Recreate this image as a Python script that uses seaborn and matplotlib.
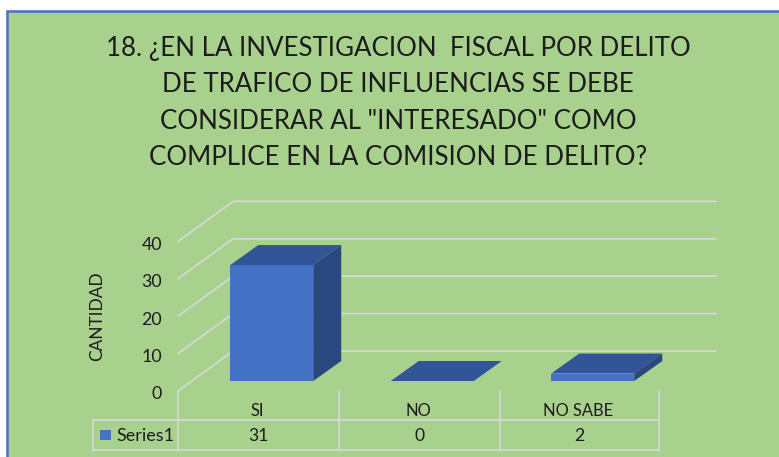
import matplotlib
matplotlib.use('Agg')
import matplotlib.pyplot as plt
import seaborn as sns
import pandas as pd
from matplotlib.lines import Line2D
from matplotlib.patches import Polygon, Rectangle

# data
categories = ['SI', 'NO', 'NO SABE']
values = [31, 0, 2]
series_name = 'Series1'
y_ticks = [0, 10, 20, 30, 40]
title = ('18. ¿EN LA INVESTIGACION  FISCAL POR DELITO\n'
         'DE TRAFICO DE INFLUENCIAS SE DEBE\n'
         'CONSIDERAR AL "INTERESADO" COMO\n'
         'COMPLICE EN LA COMISION DE DELITO?')

W, H = 779, 457
GREEN = '#A9D18E'
BLUE = '#4472C4'
TOP = '#325597'
SIDE = '#2A4780'
GRID = '#D9D9D9'
TEXT = '#1C1C1C'

sns.set_theme(style='white')
plt.rcParams['font.family'] = ['Lato', 'DejaVu Sans']


def px(x, y):
    # picture pixels to figure fraction
    return x / W, 1 - y / H


def table_line(x0, y0, x1, y1):
    fx0, fy0 = px(x0, y0)
    fx1, fy1 = px(x1, y1)
    fig.add_artist(Line2D([fx0, fx1], [fy0, fy1], color=GRID, lw=1.2))


df = pd.DataFrame({'category': categories, 'value': values})

fig = plt.figure(figsize=(W / 100, H / 100), dpi=100, facecolor='white')

# green panel with blue border
x0, y1 = px(6.5, 457 + 5)
x1, y0 = px(779 + 5, 11)
fig.add_artist(Rectangle((x0, y1), x1 - x0, y0 - y1, transform=fig.transFigure,
                         facecolor=GREEN, edgecolor=BLUE, lw=1.8, zorder=-5))

# axes sit on the front plane of the bars: y=0 at 381 px, 37.4 px per 10
left, bottom = px(191.5, 381)
ax = fig.add_axes([left, bottom, 481.5 / W, 149.6 / H])
ax.patch.set_visible(False)

bar_width = 83 / 160.5
sns.barplot(data=df, x='category', y='value', color=BLUE, saturation=1,
            width=bar_width, ax=ax, zorder=3, linewidth=0)
ax.set_xlim(-0.5, 2.5)
ax.set_ylim(0, 40)
ax.set_axis_off()

# depth of the 3D look, in data units
dx = 28 / 160.5
dy = 20 / 3.74
front_x = -0.5 - 13.5 / 160.5
front_y = -10 / 3.74
back_x = -0.5 + 41.5 / 160.5
back_y = 30 / 3.74
end_x = -0.5 + 524.5 / 160.5

for t in y_ticks:
    ax.plot([front_x, back_x, end_x], [t + front_y, t + back_y, t + back_y],
            color=GRID, lw=1.2, clip_on=False, zorder=1, solid_joinstyle='miter')
    ax.text(front_x - 16 / 160.5, t + front_y - 0.9, str(t), ha='right', va='center',
            fontsize=12.8, color=TEXT, clip_on=False)

for i, v in enumerate(values):
    a = i - bar_width / 2
    b = i + bar_width / 2
    ax.add_patch(Polygon([(a, v), (b, v), (b + dx, v + dy), (a + dx, v + dy)],
                         facecolor=TOP, edgecolor='none', clip_on=False, zorder=4))
    ax.add_patch(Polygon([(b, 0), (b + dx, dy), (b + dx, v + dy), (b, v)],
                         facecolor=SIDE, edgecolor='none', clip_on=False, zorder=4))

# data table under the chart
col_x = [178, 339, 500, 659]
table_line(93, 420, 659, 420)
table_line(93, 450, 659, 450)
table_line(93, 420, 93, 450)
for x in col_x:
    table_line(x, 391, x, 450)

for i, (c, v) in enumerate(zip(categories, values)):
    cx = (col_x[i] + col_x[i + 1]) / 2
    fig.text(*px(cx - 1, 411), c, ha='center', va='center', fontsize=11.9, color=TEXT)
    fig.text(*px(cx, 436), str(v), ha='center', va='center', fontsize=12.6, color=TEXT)

sx, sy = px(100, 440)
fig.add_artist(Rectangle((sx, sy), 10.5 / W, 10.5 / H, transform=fig.transFigure,
                         facecolor=BLUE, edgecolor='none'))
fig.text(*px(116, 436), series_name, ha='left', va='center', fontsize=13, color=TEXT)

fig.text(*px(97, 316), 'CANTIDAD', rotation=90, ha='center', va='center',
         fontsize=12.4, color=TEXT)
fig.text(*px(398, 103), title, ha='center', va='center', fontsize=18.6,
         color=TEXT, linespacing=1.56)

fig.savefig('out.png', dpi=100, facecolor='white')
